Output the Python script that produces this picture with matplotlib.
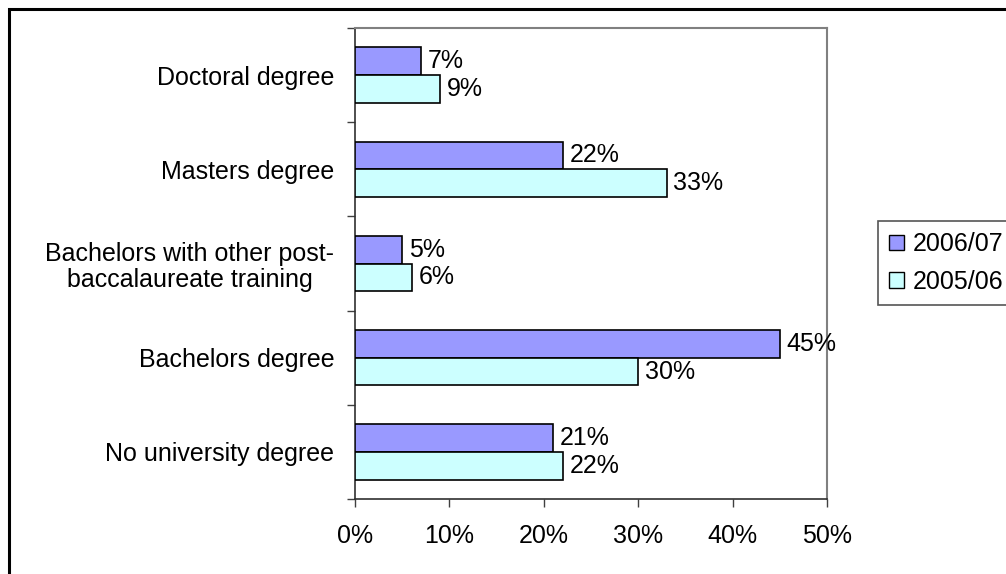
import matplotlib
matplotlib.use("Agg")
import matplotlib.pyplot as plt
from matplotlib.patches import Rectangle, Patch
import numpy as np

plt.rcParams['font.family'] = ['Liberation Sans', 'DejaVu Sans']

categories = ["No university degree", "Bachelors degree",
              "Bachelors with other post-\nbaccalaureate training",
              "Masters degree", "Doctoral degree"]
series_names = ["2006/07", "2005/06"]
values_0607 = [21, 45, 5, 22, 7]
values_0506 = [22, 30, 6, 33, 9]
xticks = [0, 10, 20, 30, 40, 50]
xtick_labels = ["0%", "10%", "20%", "30%", "40%", "50%"]

colors = {"2006/07": "#9999FF", "2005/06": "#CCFFFF"}

W, H = 1006, 574
fig = plt.figure(figsize=(W / 100, H / 100), dpi=100)

# outer chart border (right/bottom run off the image)
fig.patches.append(Rectangle((9 / W, -0.05), 1.2, 1 - 9 / H + 0.05,
                             transform=fig.transFigure, fill=False,
                             edgecolor='black', linewidth=2.2, zorder=0))

ax = fig.add_axes([355 / W, 1 - 499 / H, (827 - 355) / W, (499 - 28) / H])

n = len(categories)
y = np.arange(n)
bh = 0.294
fs = 18

b1 = ax.barh(y + bh / 2, values_0607, height=bh, color=colors["2006/07"],
             edgecolor='black', linewidth=1.2, zorder=3)
b2 = ax.barh(y - bh / 2, values_0506, height=bh, color=colors["2005/06"],
             edgecolor='black', linewidth=1.2, zorder=3)

for bars, vals in ((b1, values_0607), (b2, values_0506)):
    for rect, v in zip(bars, vals):
        ax.annotate(f"{v}%", (v, rect.get_y() + rect.get_height() / 2),
                    xytext=(5, 0), textcoords='offset points',
                    va='center', ha='left', fontsize=fs, color='black')

ax.set_xlim(0, 50)
ax.set_ylim(-0.5, n - 0.5)
ax.set_xticks(xticks)
ax.set_xticklabels(xtick_labels, fontsize=fs)
ax.set_yticks(y)
ax.set_yticklabels(categories, fontsize=fs, multialignment='center',
                   linespacing=1.12)
ax.set_yticks(np.arange(-0.5, n, 1.0), minor=True)

ax.tick_params(axis='y', which='major', length=0, pad=15)
ax.tick_params(axis='y', which='minor', length=6, width=1, color='#404040',
               direction='out')
ax.tick_params(axis='x', which='major', length=6, width=1, color='#404040',
               direction='out', pad=12)

for s in ('left', 'bottom'):
    ax.spines[s].set_color('#303030')
    ax.spines[s].set_linewidth(1.2)
for s in ('top', 'right'):
    ax.spines[s].set_color('#808080')
    ax.spines[s].set_linewidth(1.5)

handles = [Patch(facecolor=colors["2006/07"], edgecolor='black', label="2006/07"),
           Patch(facecolor=colors["2005/06"], edgecolor='black', label="2005/06")]
leg = fig.legend(handles=handles, loc='upper left',
                 bbox_to_anchor=(878 / W, 1 - 221 / H),
                 bbox_transform=fig.transFigure,
                 fontsize=fs, frameon=True, fancybox=False,
                 edgecolor='#555555', handlelength=0.6, handleheight=0.6,
                 handletextpad=0.35, borderpad=0.45, labelspacing=0.55,
                 borderaxespad=0, framealpha=1)
leg.get_frame().set_linewidth(1.2)

fig.savefig("out.png", dpi=100)
